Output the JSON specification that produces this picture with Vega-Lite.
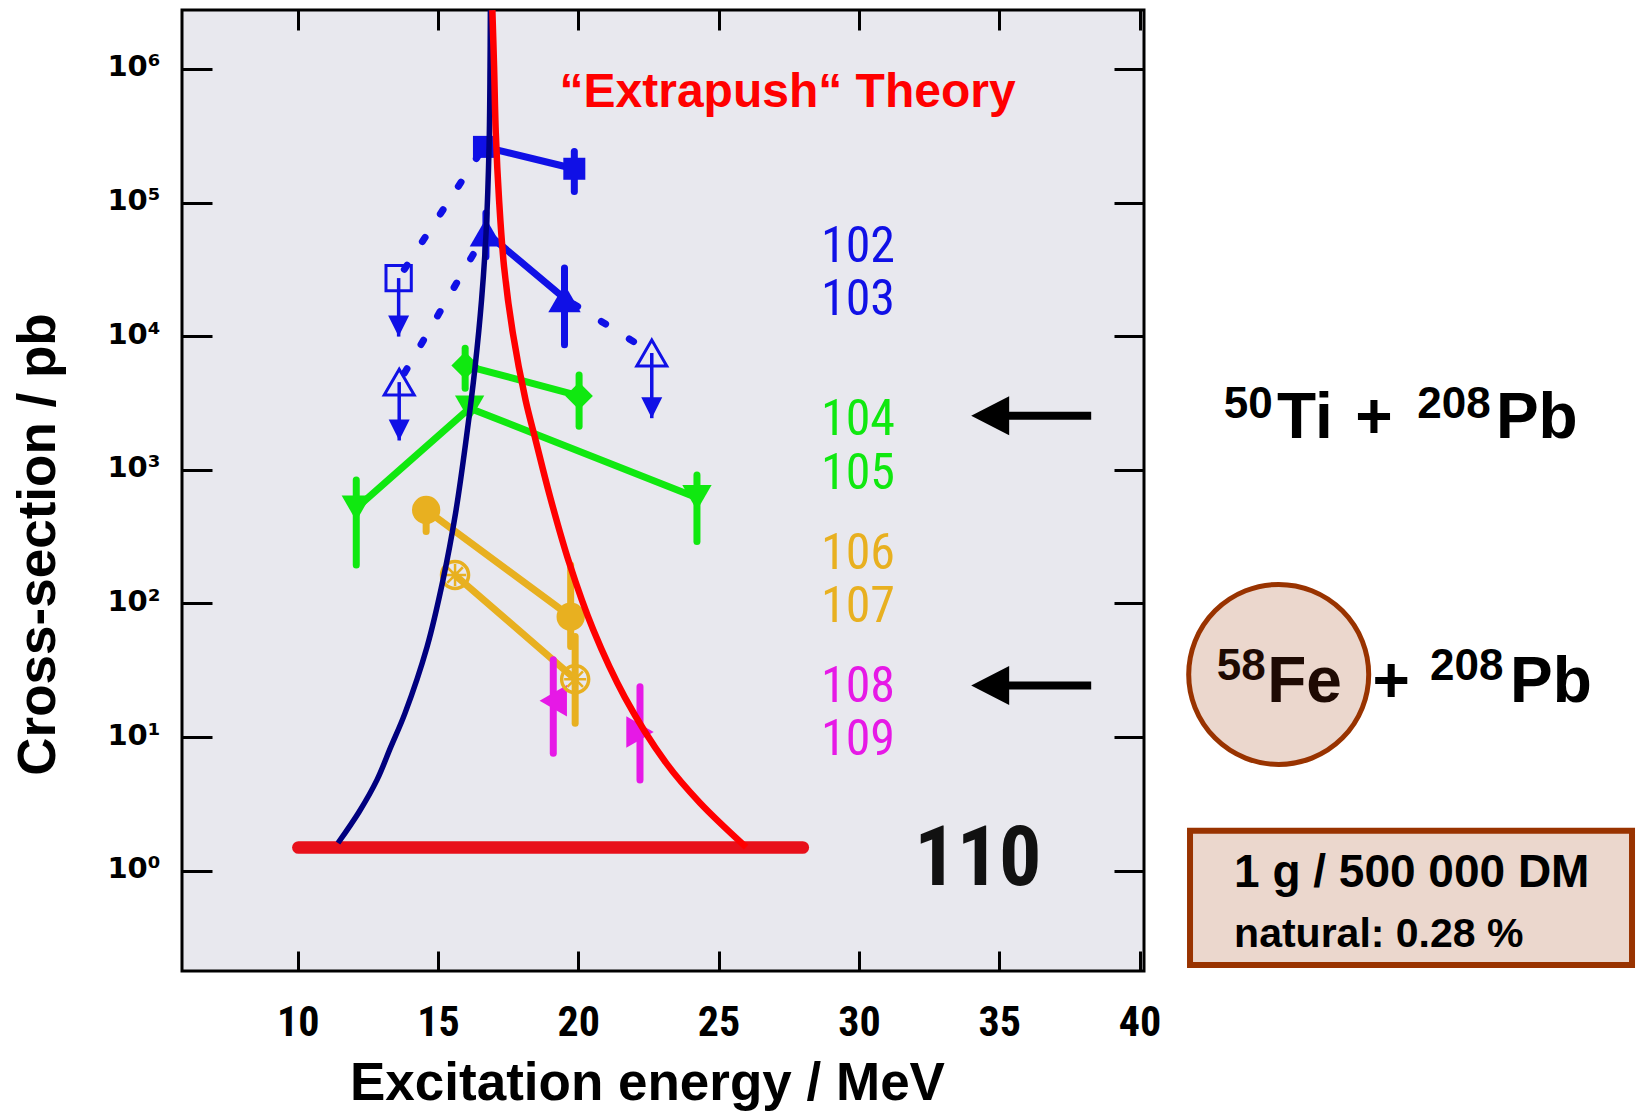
{
  "$schema": "https://vega.github.io/schema/vega-lite/v6.json",
  "width": 962,
  "height": 961,
  "autosize": {"type": "none"},
  "padding": {"left": 182, "top": 10, "right": 493, "bottom": 141},
  "background": "#ffffff",
  "config": {
    "view": {"fill": "#e8e8ee", "stroke": "#000000", "strokeWidth": 3},
    "axis": {"domain": false, "grid": false, "tickColor": "#000000", "tickWidth": 3, "labelColor": "#000000", "titleColor": "#000000", "labelFlush": false, "labelOverlap": false}
  },
  "datasets": {
    "floor": [{"E": 10.03, "sigma": 1.49}, {"E": 28.0, "sigma": 1.49}],
    "theory": [
      {"curve": "fusion", "E": 11.439, "sigma": 1.61},
      {"curve": "fusion", "E": 12.188, "sigma": 2.75},
      {"curve": "fusion", "E": 12.829, "sigma": 4.78},
      {"curve": "fusion", "E": 13.321, "sigma": 8.43},
      {"curve": "fusion", "E": 13.827, "sigma": 15.1},
      {"curve": "fusion", "E": 14.611, "sigma": 47.2},
      {"curve": "fusion", "E": 15.181, "sigma": 150},
      {"curve": "fusion", "E": 15.629, "sigma": 475},
      {"curve": "fusion", "E": 16.003, "sigma": 1675},
      {"curve": "fusion", "E": 16.324, "sigma": 5890},
      {"curve": "fusion", "E": 16.555, "sigma": 18700},
      {"curve": "fusion", "E": 16.715, "sigma": 59300},
      {"curve": "fusion", "E": 16.822, "sigma": 261000},
      {"curve": "fusion", "E": 16.857, "sigma": 1050000},
      {"curve": "fusion", "E": 16.868, "sigma": 2750000},
      {"curve": "extrapush", "E": 16.939, "sigma": 2750000},
      {"curve": "extrapush", "E": 17.0, "sigma": 1050000},
      {"curve": "extrapush", "E": 17.061, "sigma": 333000},
      {"curve": "extrapush", "E": 17.178, "sigma": 105000},
      {"curve": "extrapush", "E": 17.357, "sigma": 33000},
      {"curve": "extrapush", "E": 17.667, "sigma": 10600},
      {"curve": "extrapush", "E": 18.122, "sigma": 3330},
      {"curve": "extrapush", "E": 18.478, "sigma": 1675},
      {"curve": "extrapush", "E": 18.994, "sigma": 630},
      {"curve": "extrapush", "E": 19.675, "sigma": 202},
      {"curve": "extrapush", "E": 20.534, "sigma": 63.4},
      {"curve": "extrapush", "E": 21.656, "sigma": 19.9},
      {"curve": "extrapush", "E": 23.129, "sigma": 6.4},
      {"curve": "extrapush", "E": 24.341, "sigma": 3.21},
      {"curve": "extrapush", "E": 25.98, "sigma": 1.5}
    ],
    "meas": [
      {"Z": "102", "E": 16.64, "sigma": 261000},
      {"Z": "102", "E": 19.86, "sigma": 179000, "lo": 121000, "hi": 241000},
      {"Z": "103", "E": 16.71, "sigma": 59700, "lo": 39300, "hi": 83400},
      {"Z": "103", "E": 19.51, "sigma": 19200, "lo": 8610, "hi": 32400},
      {"Z": "104", "E": 15.97, "sigma": 6030, "lo": 4080, "hi": 8130},
      {"Z": "104", "E": 20.03, "sigma": 3570, "lo": 2120, "hi": 5120},
      {"Z": "105", "E": 12.09, "sigma": 516, "lo": 194, "hi": 840},
      {"Z": "105", "E": 16.13, "sigma": 2890},
      {"Z": "105", "E": 24.23, "sigma": 618, "lo": 290, "hi": 916},
      {"Z": "106", "E": 14.58, "sigma": 501, "lo": 345, "hi": 501},
      {"Z": "106", "E": 19.73, "sigma": 79.6, "lo": 47.5, "hi": 194},
      {"Z": "107", "E": 15.61, "sigma": 163},
      {"Z": "107", "E": 19.89, "sigma": 27.1, "lo": 12.7, "hi": 56.5},
      {"Z": "108", "E": 19.11, "sigma": 18.7, "lo": 7.57, "hi": 37.8},
      {"Z": "109", "E": 22.2, "sigma": 10.9, "lo": 4.77, "hi": 23.8}
    ],
    "limits": [
      {"Z": "102", "E": 13.6, "sigma": 27200, "tip": 9930},
      {"Z": "103", "E": 13.62, "sigma": 4530, "tip": 1657},
      {"Z": "103", "E": 22.62, "sigma": 7480, "tip": 2433}
    ],
    "dotted": [
      {"seg": "d1", "Z": "102", "E": 13.6, "sigma": 27200},
      {"seg": "d1", "Z": "102", "E": 16.64, "sigma": 261000},
      {"seg": "d2", "Z": "103", "E": 13.62, "sigma": 4530},
      {"seg": "d2", "Z": "103", "E": 16.71, "sigma": 59700},
      {"seg": "d3", "Z": "103", "E": 19.51, "sigma": 19200},
      {"seg": "d3", "Z": "103", "E": 22.62, "sigma": 7480}
    ],
    "zlabels": [
      {"Z": "102", "txt": "102", "E": 29.97, "sigma": 35900},
      {"Z": "103", "txt": "103", "E": 29.97, "sigma": 14520},
      {"Z": "104", "txt": "104", "E": 29.97, "sigma": 1820},
      {"Z": "105", "txt": "105", "E": 29.97, "sigma": 724},
      {"Z": "106", "txt": "106", "E": 29.97, "sigma": 180},
      {"Z": "107", "txt": "107", "E": 29.97, "sigma": 72.6},
      {"Z": "108", "txt": "108", "E": 29.97, "sigma": 18.2},
      {"Z": "109", "txt": "109", "E": 29.97, "sigma": 7.35}
    ],
    "big110": [{"txt": "110", "E": 34.24, "sigma": 0.787}],
    "theoryLabel": [{"txt": "“Extrapush“ Theory", "E": 27.46, "sigma": 523000}],
    "arrows": [{"E": 36.14, "sigma": 2541}, {"E": 36.14, "sigma": 24.3}],
    "nucleus": [{"E": 44.96, "sigma": 29.4}],
    "box": [{"E": 41.8, "E2": 57.55, "sigma": 1.992, "sigma2": 0.1968}],
    "boxLine1": [{"txt": "1 g / 500 000 DM", "E": 49.7, "sigma": 0.755}],
    "boxLine2": [{"txt": "natural: 0.28 %", "E": 43.37, "sigma": 0.2686}],
    "reactionMain": [
      {"reaction": "Ti", "role": "projectile", "txt": "Ti", "E": 44.9, "sigma": 1739},
      {"reaction": "Ti", "role": "plus", "txt": "+", "E": 47.69, "sigma": 1739},
      {"reaction": "Ti", "role": "target", "txt": "Pb", "E": 52.7, "sigma": 1739},
      {"reaction": "Fe", "role": "projectile", "txt": "Fe", "E": 44.55, "sigma": 18.37},
      {"reaction": "Fe", "role": "plus", "txt": "+", "E": 48.3, "sigma": 18.37},
      {"reaction": "Fe", "role": "target", "txt": "Pb", "E": 53.2, "sigma": 18.37}
    ],
    "reactionMass": [
      {"reaction": "Ti", "role": "projectile", "txt": "50", "E": 43.0, "sigma": 2421},
      {"reaction": "Ti", "role": "target", "txt": "208", "E": 49.9, "sigma": 2421},
      {"reaction": "Fe", "role": "projectile", "txt": "58", "E": 42.75, "sigma": 26.85},
      {"reaction": "Fe", "role": "target", "txt": "208", "E": 50.35, "sigma": 26.85}
    ]
  },
  "encoding": {
    "x": {"field": "E", "type": "quantitative", "scale": {"domain": [5.88, 40.16], "nice": false, "zero": false}, "axis": null},
    "y": {"field": "sigma", "type": "quantitative", "scale": {"type": "log", "domain": [0.1774, 2760600], "nice": false}, "axis": null}
  },
  "resolve": {"axis": {"x": "independent", "y": "independent"}},
  "layer": [
    {
      "data": {"name": "floor"},
      "mark": {"type": "line", "color": "#e80f1a", "strokeWidth": 12.7, "strokeCap": "round"},
      "encoding": {
        "x": {"field": "E", "type": "quantitative", "scale": {"domain": [5.88, 40.16], "nice": false, "zero": false},
          "axis": {"orient": "bottom", "values": [10, 15, 20, 25, 30, 35, 40], "tickSize": -20, "labelPadding": 51,
            "labelFont": "Liberation Sans Narrow, Roboto Condensed, DejaVu Sans Condensed, Liberation Sans", "labelFontSize": 42, "labelFontWeight": "bold",
            "title": "Excitation energy / MeV", "titleFont": "Liberation Sans", "titleFontSize": 53, "titleFontWeight": "bold",
            "titleX": 465, "titleY": 128, "titleAlign": "center", "titleBaseline": "alphabetic", "titleAngle": 0}},
        "y": {"field": "sigma", "type": "quantitative", "scale": {"type": "log", "domain": [0.1774, 2760600], "nice": false},
          "axis": {"orient": "left", "values": [1, 10, 100, 1000, 10000, 100000, 1000000], "tickSize": -30, "labelPadding": 52, "labelOffset": -2,
            "labelExpr": "'10' + ['⁰','¹','²','³','⁴','⁵','⁶'][round(log(datum.value)/LN10)]",
            "labelFont": "DejaVu Sans", "labelFontSize": 29, "labelFontWeight": "bold", "labelAlign": "right", "labelBaseline": "middle",
            "title": "Cross-section / pb", "titleFont": "Liberation Sans", "titleFontSize": 53, "titleFontWeight": "bold",
            "titleAngle": -90, "titleX": -128, "titleY": 534, "titleAlign": "center", "titleBaseline": "alphabetic"}}
      }
    },
    {
      "data": {"name": "meas"},
      "mark": {"type": "line", "strokeWidth": 7, "strokeCap": "round", "strokeJoin": "round"},
      "encoding": {
        "x": {"field": "E", "type": "quantitative", "scale": {"domain": [5.88, 40.16], "nice": false, "zero": false},
          "axis": {"orient": "top", "values": [10, 15, 20, 25, 30, 35, 40], "tickSize": -20, "labels": false, "title": null}},
        "y": {"field": "sigma", "type": "quantitative", "scale": {"type": "log", "domain": [0.1774, 2760600], "nice": false},
          "axis": {"orient": "right", "values": [1, 10, 100, 1000, 10000, 100000, 1000000], "tickSize": -30, "labels": false, "title": null}},
        "color": {"field": "Z", "type": "nominal", "scale": {"domain": ["102", "103", "104", "105", "106", "107", "108", "109"], "range": ["#1010e6", "#1010e6", "#10e810", "#10e810", "#e8b020", "#e8b020", "#e619e6", "#e619e6"]}, "legend": null}
      }
    },
    {
      "data": {"name": "dotted"},
      "mark": {"type": "line", "strokeWidth": 7, "strokeCap": "round", "strokeDash": [5, 28], "strokeDashOffset": 22.5},
      "encoding": {
        "color": {"field": "Z", "type": "nominal", "legend": null},
        "detail": {"field": "seg"}
      }
    },
    {
      "data": {"name": "meas"},
      "transform": [{"filter": "isValid(datum.lo)"}],
      "mark": {"type": "rule", "strokeWidth": 7, "strokeCap": "round"},
      "encoding": {
        "y": {"field": "lo", "type": "quantitative", "scale": {"type": "log", "domain": [0.1774, 2760600], "nice": false}, "axis": null},
        "y2": {"field": "hi"},
        "color": {"field": "Z", "type": "nominal", "legend": null}
      }
    },
    {
      "data": {"name": "limits"},
      "mark": {"type": "rule", "strokeWidth": 3.5},
      "encoding": {
        "y2": {"field": "tip"},
        "color": {"field": "Z", "type": "nominal", "legend": null}
      }
    },
    {
      "data": {"name": "limits"},
      "mark": {"type": "point", "shape": "M-1,-1L1,-1L0,1Z", "filled": true, "opacity": 1, "size": 441, "yOffset": -10.5},
      "encoding": {
        "y": {"field": "tip", "type": "quantitative", "scale": {"type": "log", "domain": [0.1774, 2760600], "nice": false}, "axis": null},
        "color": {"field": "Z", "type": "nominal", "legend": null}
      }
    },
    {
      "data": {"name": "meas"},
      "transform": [{"filter": "datum.Z !== '107'"}],
      "mark": {"type": "point", "filled": true, "opacity": 1},
      "encoding": {
        "color": {"field": "Z", "type": "nominal", "legend": null},
        "shape": {"field": "Z", "type": "nominal", "scale": {"domain": ["102", "103", "104", "105", "106", "107", "108", "109"], "range": ["square", "triangle-up", "diamond", "triangle-down", "circle", "circle", "triangle-left", "triangle-right"]}, "legend": null},
        "size": {"condition": [
          {"test": "datum.Z === '102'", "value": 484},
          {"test": "datum.Z === '103'", "value": 1050},
          {"test": "datum.Z === '104'", "value": 760},
          {"test": "datum.Z === '105'", "value": 860},
          {"test": "datum.Z === '106'", "value": 800}
        ], "value": 1000}
      }
    },
    {
      "data": {"name": "meas"},
      "transform": [{"filter": "datum.Z === '107'"}],
      "mark": {"type": "point", "shape": "circle", "filled": false, "strokeWidth": 3.5, "opacity": 1, "size": 730},
      "encoding": {
        "color": {"field": "Z", "type": "nominal", "legend": null}
      }
    },
    {
      "data": {"name": "meas"},
      "transform": [{"filter": "datum.Z === '107'"}],
      "mark": {"type": "point", "shape": "M-1,0L1,0M0,-1L0,1M-0.71,-0.71L0.71,0.71M-0.71,0.71L0.71,-0.71", "filled": false, "strokeWidth": 2.5, "opacity": 1, "size": 484},
      "encoding": {
        "color": {"field": "Z", "type": "nominal", "legend": null}
      }
    },
    {
      "data": {"name": "limits"},
      "mark": {"type": "point", "filled": false, "strokeWidth": 3, "opacity": 1},
      "encoding": {
        "color": {"field": "Z", "type": "nominal", "legend": null},
        "shape": {"field": "Z", "type": "nominal", "legend": null},
        "size": {"condition": {"test": "datum.Z === '102'", "value": 640}, "value": 900}
      }
    },
    {
      "data": {"name": "theory"},
      "transform": [{"filter": "datum.curve === 'fusion'"}],
      "mark": {"type": "line", "color": "#00007f", "strokeWidth": 5.5, "interpolate": "catmull-rom"},
      "encoding": {}
    },
    {
      "data": {"name": "theory"},
      "transform": [{"filter": "datum.curve === 'extrapush'"}],
      "mark": {"type": "line", "color": "#ff0000", "strokeWidth": 6.5, "interpolate": "catmull-rom"},
      "encoding": {}
    },
    {
      "data": {"name": "theoryLabel"},
      "mark": {"type": "text", "align": "center", "baseline": "alphabetic", "font": "Liberation Sans", "fontWeight": "bold", "fontSize": 48, "color": "#ff0000"},
      "encoding": {"text": {"field": "txt"}}
    },
    {
      "data": {"name": "zlabels"},
      "mark": {"type": "text", "align": "center", "baseline": "alphabetic", "font": "Liberation Sans Narrow, Roboto Condensed, DejaVu Sans Condensed, Liberation Sans", "fontWeight": "normal", "fontSize": 50},
      "encoding": {
        "text": {"field": "txt"},
        "color": {"field": "Z", "type": "nominal", "legend": null}
      }
    },
    {
      "data": {"name": "big110"},
      "mark": {"type": "text", "align": "center", "baseline": "alphabetic", "font": "Liberation Sans Narrow, Roboto Condensed, DejaVu Sans Condensed, Liberation Sans", "fontWeight": "bold", "fontSize": 84, "color": "#111111"},
      "encoding": {"text": {"field": "txt"}}
    },
    {
      "data": {"name": "arrows"},
      "mark": {"type": "point", "shape": "M-1,0L-0.367,-0.325L-0.367,-0.067L1,-0.067L1,0.067L-0.367,0.067L-0.367,0.325Z", "filled": true, "opacity": 1, "size": 14400, "color": "#000000"},
      "encoding": {}
    },
    {
      "data": {"name": "nucleus"},
      "mark": {"type": "point", "shape": "circle", "filled": true, "opacity": 1, "size": 32400, "fill": "#ebd7cd", "stroke": "#993300", "strokeWidth": 5},
      "encoding": {}
    },
    {
      "data": {"name": "box"},
      "mark": {"type": "rect", "fill": "#ebd7cd", "stroke": "#993300", "strokeWidth": 6},
      "encoding": {
        "x2": {"field": "E2"},
        "y2": {"field": "sigma2"}
      }
    },
    {
      "data": {"name": "boxLine1"},
      "mark": {"type": "text", "align": "center", "baseline": "alphabetic", "font": "Liberation Sans", "fontWeight": "bold", "fontSize": 46, "color": "#000000"},
      "encoding": {"text": {"field": "txt"}}
    },
    {
      "data": {"name": "boxLine2"},
      "mark": {"type": "text", "align": "left", "baseline": "alphabetic", "font": "Liberation Sans", "fontWeight": "bold", "fontSize": 41, "color": "#000000"},
      "encoding": {"text": {"field": "txt"}}
    },
    {
      "data": {"name": "reactionMain"},
      "mark": {"type": "text", "align": "left", "baseline": "alphabetic", "font": "Liberation Sans", "fontWeight": "bold", "fontSize": 64},
      "encoding": {
        "text": {"field": "txt"},
        "color": {"condition": {"test": "datum.reaction === 'Fe' && datum.role === 'projectile'", "value": "#1e0a03"}, "value": "#000000"}
      }
    },
    {
      "data": {"name": "reactionMass"},
      "mark": {"type": "text", "align": "left", "baseline": "alphabetic", "font": "Liberation Sans", "fontWeight": "bold", "fontSize": 44},
      "encoding": {
        "text": {"field": "txt"},
        "color": {"condition": {"test": "datum.reaction === 'Fe' && datum.role === 'projectile'", "value": "#1e0a03"}, "value": "#000000"}
      }
    }
  ]
}
